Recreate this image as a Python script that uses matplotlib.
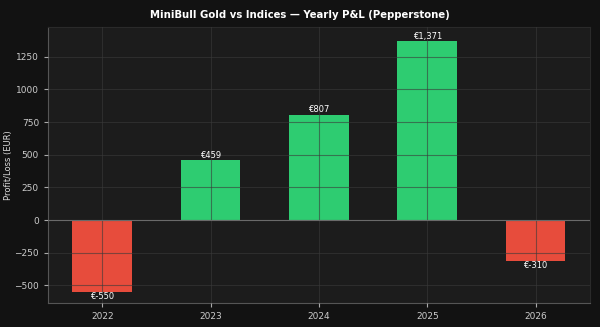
import matplotlib
matplotlib.use("Agg")
import matplotlib.pyplot as plt

years = ["2022", "2023", "2024", "2025", "2026"]
pnl = [-550, 459, 807, 1371, -310]
labels = ["€-550", "€459", "€807", "€1,371", "€-310"]

fig = plt.figure(figsize=(6, 3.27), dpi=100, facecolor="#121212")
ax = fig.add_axes([0.08, 0.073, 0.903, 0.845])
ax.set_facecolor("#1c1c1c")

x = list(range(len(years)))
colors = ["#2ecc71" if v >= 0 else "#e74c3c" for v in pnl]
bars = ax.bar(x, pnl, width=0.55, color=colors, zorder=1)

ax.grid(True, color="#3a3a3a", alpha=0.6, linewidth=0.8, zorder=3)
ax.set_axisbelow(False)
ax.axhline(0, color="#6a6a6a", linewidth=0.8, zorder=4)

for xi, v, lab in zip(x, pnl, labels):
    if v >= 0:
        ax.text(xi, v + 3, lab, ha="center", va="bottom", color="white", fontsize=6, zorder=5)
    else:
        ax.text(xi, v - 3, lab, ha="center", va="top", color="white", fontsize=6, zorder=5)

ax.set_xticks(x)
ax.set_xticklabels(years)
ax.set_xlim(-0.5, 4.5)
ax.set_ylim(-636, 1480)
ax.set_yticks([-500, -250, 0, 250, 500, 750, 1000, 1250])
ax.set_yticklabels(["−500", "−250", "0", "250", "500", "750", "1000", "1250"])
ax.tick_params(colors="#aaaaaa", labelsize=6.5, length=3, labelcolor="#cccccc")
for s in ["left", "bottom"]:
    ax.spines[s].set_color("#555555")
for s in ["top", "right"]:
    ax.spines[s].set_color("#2a2a2a")
ax.set_ylabel("Profit/Loss (EUR)", color="#dddddd", fontsize=6)
ax.yaxis.set_label_coords(-0.064, 0.5)
fig.suptitle("MiniBull Gold vs Indices — Yearly P&L (Pepperstone)", color="white",
             fontsize=7.3, fontweight="bold", y=0.97)

fig.savefig("out.png", dpi=100, facecolor=fig.get_facecolor())
